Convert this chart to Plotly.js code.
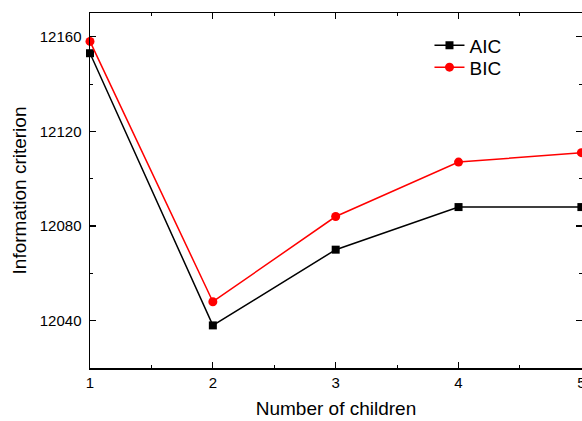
<!DOCTYPE html>
<html>
<head>
<meta charset="utf-8">
<script src="https://cdn.plot.ly/plotly-3.0.1.min.js"></script>
<style>html,body{margin:0;padding:0;background:#fff;}</style>
</head>
<body>
<div id="chart" style="width:582px;height:421px;"></div>
<script>
const children = [1, 2, 3, 4, 5];
const aic = [12153, 12038, 12070, 12088, 12088];
const bic = [12158, 12048, 12084, 12107, 12111];
const xTicks = [1, 2, 3, 4, 5];
const yTicks = [12040, 12080, 12120, 12160];

const font = "Liberation Sans, Arial, sans-serif";

const traces = [
  {x: children, y: aic, name: 'AIC', mode: 'lines+markers', cliponaxis: false, legend: 'legend',
   line: {color: '#000000', width: 1.5},
   marker: {symbol: 'square', size: 8, color: '#000000'}},
  {x: children, y: bic, name: 'BIC', mode: 'lines+markers', cliponaxis: false, legend: 'legend2',
   line: {color: '#ff0000', width: 1.5},
   marker: {symbol: 'circle', size: 9, color: '#ff0000'}}
];

const axisCommon = {
  showgrid: false, zeroline: false, showline: true, linecolor: '#000', linewidth: 1.5,
  mirror: 'allticks', ticks: 'inside', ticklen: 6, tickwidth: 1.2, tickcolor: '#000',
  ticklabeloverflow: 'allow',
  tickfont: {family: font, size: 15, color: '#000'}
};

const legendCommon = {xanchor: 'left', yanchor: 'middle', bgcolor: 'rgba(0,0,0,0)',
  font: {family: font, size: 19, color: '#000'}};

const layout = {
  width: 582, height: 421,
  margin: {l: 90, r: 0, t: 13, b: 53},
  paper_bgcolor: '#fff', plot_bgcolor: '#fff',
  font: {family: font, color: '#000'},
  showlegend: true,
  legend: Object.assign({x: 0.69, y: 0.909}, legendCommon),
  legend2: Object.assign({x: 0.69, y: 0.847}, legendCommon),
  xaxis: Object.assign({}, axisCommon, {
    range: [1, 5.005], tickvals: xTicks, tickformat: 'd',
    minor: {ticks: 'inside', ticklen: 3, dtick: 0.5, tickcolor: '#000', tickwidth: 1},
    title: {text: 'Number of children', font: {family: font, size: 19, color: '#000'}, standoff: 12}
  }),
  yaxis: Object.assign({}, axisCommon, {
    range: [12020, 12170], tickvals: yTicks, tickformat: 'd', ticklabelstandoff: 4,
    minor: {ticks: 'inside', ticklen: 3, dtick: 20, tick0: 12020, tickcolor: '#000', tickwidth: 1},
    title: {text: 'Information criterion', font: {family: font, size: 19, color: '#000'}, standoff: 8}
  })
};

Plotly.newPlot('chart', traces, layout, {displayModeBar: false, staticPlot: true});
</script>
</body>
</html>
